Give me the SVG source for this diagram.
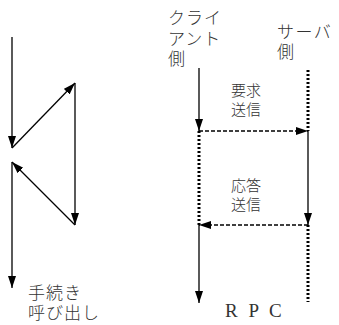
<svg xmlns="http://www.w3.org/2000/svg" width="339" height="325" viewBox="0 0 339 325">
<defs>
<marker id="ah" markerUnits="userSpaceOnUse" markerWidth="14" markerHeight="10" refX="12" refY="4" orient="auto">
<path d="M0,0 L12,4 L0,8 Z" fill="#000"/>
</marker>
<style>
.s{stroke:#000;stroke-width:1.3;fill:none}
.d{stroke:#000;stroke-width:1.3;fill:none;stroke-dasharray:4 2}
.o{stroke:#000;stroke-width:3;fill:none;stroke-dasharray:2 2}
.j{font-family:"Noto Sans CJK JP","Noto Sans",sans-serif;font-weight:300;fill:#333}
.r{font-family:"Liberation Serif",serif;fill:#333}
</style>
</defs>
<rect width="339" height="325" fill="#fff"/>
<g id="connectors">
<line class="s" x1="12" y1="37" x2="12" y2="148" marker-end="url(#ah)"/>
<line class="s" x1="12" y1="148" x2="75" y2="83" marker-end="url(#ah)"/>
<line class="s" x1="75" y1="83" x2="75" y2="225" marker-end="url(#ah)"/>
<line class="s" x1="75" y1="225" x2="12" y2="162" marker-end="url(#ah)"/>
<line class="s" x1="12" y1="162" x2="12" y2="288" marker-end="url(#ah)"/>
<line class="s" x1="199" y1="68" x2="199" y2="131" marker-end="url(#ah)"/>
<line class="o" x1="308" y1="70" x2="308" y2="131"/>
<line class="d" x1="199" y1="131" x2="308" y2="131" marker-end="url(#ah)"/>
<line class="s" x1="308" y1="131" x2="308" y2="225" marker-end="url(#ah)"/>
<line class="o" x1="199" y1="131" x2="199" y2="225"/>
<line class="d" x1="308" y1="225" x2="199" y2="225" marker-end="url(#ah)"/>
<line class="s" x1="199" y1="225" x2="199" y2="303" marker-end="url(#ah)"/>
<line class="o" x1="308" y1="225" x2="308" y2="302"/>
</g>
<g id="label-call">
<text class="j" font-size="17" x="28" y="299" letter-spacing="1">手続き</text>
<text class="j" font-size="17" x="28" y="319" letter-spacing="1">呼び出し</text>
</g>
<g id="label-client">
<text class="j" font-size="17" x="168" y="24" letter-spacing="1">クライ</text>
<text class="j" font-size="17" x="168" y="45" letter-spacing="1">アント</text>
<text class="j" font-size="17" x="168" y="65">側</text>
</g>
<g id="label-server">
<text class="j" font-size="17" x="277" y="38" letter-spacing="1.5">サーバ</text>
<text class="j" font-size="17" x="277" y="58">側</text>
</g>
<g id="label-request">
<text class="j" font-size="15" x="231" y="96">要求</text>
<text class="j" font-size="15" x="231" y="115">送信</text>
</g>
<g id="label-response">
<text class="j" font-size="15" x="231" y="191">応答</text>
<text class="j" font-size="15" x="231" y="210">送信</text>
</g>
<g id="label-rpc">
<text class="r" font-size="19" x="225" y="317" letter-spacing="3">R P C</text>
</g>
</svg>
